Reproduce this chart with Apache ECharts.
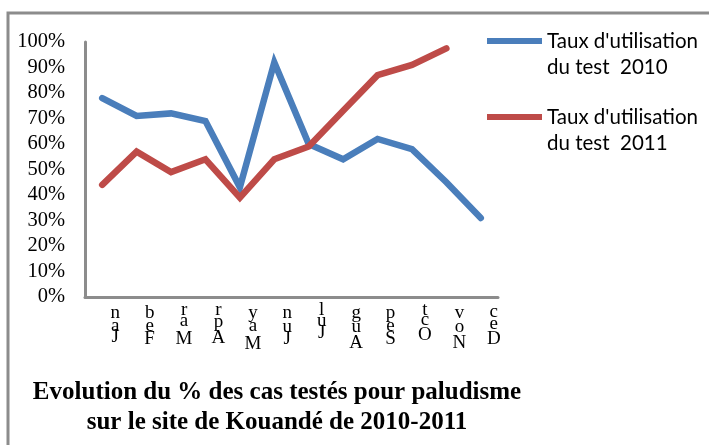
<!DOCTYPE html>
<html>
<head>
<meta charset="utf-8">
<script src="https://cdn.jsdelivr.net/npm/echarts@6/dist/echarts.min.js"></script>
<style>
html,body{margin:0;padding:0;background:#fff;}
#chart{width:709px;height:445px;}
</style>
</head>
<body>
<div id="chart"></div>
<script>
var months = ["Jan","Feb","Mar","Apr","May","Jun","Jul","Aug","Sep","Oct","Nov","Dec"];
var yTicks = [0,10,20,30,40,50,60,70,80,90,100];
var name2010 = "Taux d'utilisation\ndu test  2010";
var name2011 = "Taux d'utilisation\ndu test  2011";
var taux2010 = [78, 71, 72, 69, 43, 92, 60, 54, 62, 58, 45, 31];
var taux2011 = [44, 57, 49, 54, 39, 54, 59, 73, 87, 91, 97.5, null];
var titleText = "Evolution du % des cas testés pour paludisme\nsur le site de Kouandé de 2010-2011";

var chart = echarts.init(document.getElementById('chart'), null, {renderer:'canvas'});
var serif = "'Liberation Serif','Times New Roman',serif";
var sans = "Lato,'Open Sans',sans-serif";
var axisGrey = '#8c8c8c';

// stacked (rotated) month letters: each letter's vertical advance follows its width
var charW = {M:89,a:44,r:33,J:39,n:50,F:56,e:44,b:50,A:72,p:50,y:50,u:50,l:28,g:50,S:56,O:72,c:44,t:28,N:72,o:50,v:50,D:72};
var rich = {};
var advScale = 0.27;
Object.keys(charW).forEach(function (k) {
  var w = charW[k];
  if (!rich['w' + w]) {
    rich['w' + w] = {fontFamily: serif, fontSize: 19, color: '#000', lineHeight: Math.round(w * advScale), align: 'center'};
  }
});

var legendText = {fontFamily: sans, fontSize: 20.5, lineHeight: 26, color: '#000'};

chart.setOption({
  animation: false,
  backgroundColor: '#fff',
  title: {
    text: titleText,
    left: 272,
    top: 373,
    textAlign: 'center',
    textStyle: {fontFamily: serif, fontWeight: 'bold', fontSize: 25, lineHeight: 30, color: '#000'}
  },
  legend: [{
    data: [name2010],
    left: 487, top: 2, padding: 0,
    itemWidth: 55, itemHeight: 6, itemGap: 0,
    icon: 'rect',
    formatter: function (n) { return ' \n' + n; },
    textStyle: legendText,
    selectedMode: false
  },{
    data: [name2011],
    left: 487, top: 78, padding: 0,
    itemWidth: 55, itemHeight: 6, itemGap: 0,
    icon: 'rect',
    formatter: function (n) { return ' \n' + n; },
    textStyle: legendText,
    selectedMode: false
  }],
  grid: {left: 85, right: 211, top: 42, bottom: 148, containLabel: false},
  xAxis: {
    type: 'category',
    data: months,
    boundaryGap: true,
    axisLine: {show: true, lineStyle: {color: axisGrey, width: 3}},
    axisTick: {show: false},
    axisLabel: {
      interval: 0,
      margin: 9,
      fontFamily: serif, fontSize: 19, color: '#000',
      padding: [0,0,0,26],
      rich: rich,
      formatter: function (v) {
        return v.split('').reverse().map(function (c) {
          return '{w' + (charW[c] || 50) + '|' + c + '}';
        }).join('\n');
      }
    }
  },
  yAxis: {
    type: 'value',
    min: yTicks[0], max: yTicks[yTicks.length-1], interval: 10,
    splitLine: {show: false},
    axisLine: {show: true, lineStyle: {color: axisGrey, width: 3}},
    axisTick: {show: false},
    axisLabel: {margin: 20, fontFamily: serif, fontSize: 20.5, color: '#000', formatter: '{value}%'}
  },
  series: [{
    name: name2010, type: 'line', data: taux2010,
    showSymbol: false, symbol: 'none',
    lineStyle: {color: '#4a7ebb', width: 6.5, cap: 'round', join: 'miter'},
    itemStyle: {color: '#4a7ebb'}
  },{
    name: name2011, type: 'line', data: taux2011,
    showSymbol: false, symbol: 'none',
    lineStyle: {color: '#be4b48', width: 6.5, cap: 'round', join: 'miter'},
    itemStyle: {color: '#be4b48'}
  }],
  graphic: [{
    type: 'polyline',
    shape: {points: [[8,445],[8,13],[709,13]]},
    style: {stroke: axisGrey, lineWidth: 3, fill: null},
    silent: true
  }]
});
</script>
</body>
</html>
